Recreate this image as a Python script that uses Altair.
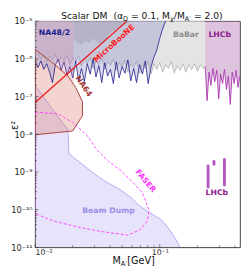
import altair as alt
import pandas as pd

# ------------------------------------------------------------------ data
# common mass grid (GeV) used for the jagged limits
mass_grid = [0.0100, 0.01055, 0.01113, 0.01174, 0.01239, 0.01307, 0.01379, 0.01455,
             0.01535, 0.01619, 0.01708, 0.01802, 0.01901, 0.02006, 0.02116, 0.02233,
             0.02355, 0.02485, 0.02622, 0.02766, 0.02918, 0.03078, 0.03248, 0.03426,
             0.03615, 0.03814, 0.04023, 0.04245, 0.04478, 0.04725, 0.04985, 0.05259,
             0.05548, 0.05853, 0.06175, 0.06515, 0.06873, 0.07251, 0.0765, 0.0807,
             0.0852, 0.0898, 0.0948, 0.1000, 0.1055, 0.1113, 0.1174, 0.1239, 0.1307,
             0.1379, 0.1455, 0.1535, 0.1619, 0.1708, 0.1802, 0.1901, 0.2006, 0.2116,
             0.2233, 0.2311]

na48_eps2 = [8.31e-7, 5.87e-7, 8.81e-7, 5.23e-7, 7.40e-7, 4.40e-7, 2.33e-7, 6.98e-7,
             9.89e-7, 4.94e-7, 8.31e-7, 3.70e-7, 6.22e-7, 3.11e-7, 8.81e-7, 2.61e-7,
             5.54e-7, 2.47e-7, 7.40e-7, 3.92e-7, 9.89e-7, 3.29e-7, 6.59e-7, 2.33e-7,
             7.84e-7, 3.49e-7, 5.23e-7, 2.20e-7, 8.31e-7, 3.11e-7, 6.22e-7, 4.15e-7,
             9.33e-7, 2.61e-7, 5.54e-7, 2.33e-7, 6.98e-7, 3.92e-7, 8.81e-7, 2.20e-7,
             6.22e-7, 1.11e-6, 1.76e-6, 3.53e-6, 6.30e-6, 1.0e-5]

babar_eps2 = [1.11e-6, 1.40e-6, 9.89e-7, 1.25e-6, 8.31e-7, 1.18e-6, 9.33e-7, 1.32e-6,
              7.84e-7, 1.11e-6, 8.81e-7, 1.25e-6, 6.98e-7, 1.05e-6, 8.31e-7, 1.18e-6,
              6.22e-7, 9.89e-7, 7.40e-7, 1.11e-6, 5.54e-7, 8.81e-7, 6.98e-7, 1.05e-6,
              5.23e-7, 8.31e-7, 6.59e-7, 9.89e-7, 4.94e-7, 7.84e-7, 6.22e-7, 9.33e-7,
              4.40e-7, 7.40e-7, 5.87e-7, 8.81e-7, 4.15e-7, 6.98e-7, 5.54e-7, 8.31e-7,
              3.92e-7, 7.40e-7, 5.23e-7, 7.84e-7, 4.40e-7, 6.98e-7, 5.54e-7, 8.31e-7,
              4.15e-7, 6.59e-7, 4.94e-7, 7.40e-7, 4.40e-7, 6.98e-7, 5.23e-7, 7.40e-7,
              4.66e-7, 6.98e-7, 5.54e-7, 6.22e-7]

lhcb_mass = [0.2311, 0.2395, 0.2482, 0.2572, 0.2666, 0.2762, 0.2863, 0.2967, 0.3074,
             0.3186, 0.3302, 0.3421, 0.3546, 0.3674, 0.3808, 0.3946, 0.4089, 0.4238, 0.4391]
lhcb_eps2 = [6.22e-7, 7.75e-8, 4.40e-7, 1.96e-7, 5.54e-7, 2.47e-7, 4.94e-7, 8.71e-8,
             3.92e-7, 2.20e-7, 5.23e-7, 1.55e-7, 3.49e-7, 6.15e-8, 4.40e-7, 2.20e-7,
             4.94e-7, 1.74e-7, 3.49e-7]

# small LHCb islands (mass, eps2 low, eps2 high)
island_mass = [0.244, 0.272, 0.330]
island_lo = [4.0e-10, 1.6e-9, 4.5e-10]
island_hi = [1.43e-9, 1.9e-9, 2.15e-9]

# darker grey band at the top
grey_mass = [0.02042, 0.02194, 0.02356, 0.02531, 0.02718, 0.02920, 0.03191, 0.03365,
             0.03614, 0.03955, 0.04478, 0.05078, 0.05758, 0.06397]
grey_eps2 = [3.53e-6, 2.64e-6, 2.35e-6, 2.97e-6, 2.64e-6, 3.53e-6, 2.64e-6, 2.35e-6,
             2.97e-6, 4.71e-6, 6.30e-6, 7.93e-6, 9.44e-6, 1.0e-5]

# rose band at top-left
rose_mass = [0.0100, 0.01354, 0.01835, 0.02042]
rose_eps2 = [1.76e-6, 8.3e-7, 3.49e-7, 2.20e-7]

# NA64 closed contour
na64_mass = [0.0100, 0.01354, 0.01835, 0.02116, 0.02398, 0.02398, 0.02314, 0.02006, 0.0100, 0.0100]
na64_eps2 = [1.76e-6, 8.3e-7, 3.49e-7, 1.74e-7, 7.3e-8, 3.07e-8, 2.58e-8, 1.22e-8, 9.66e-9, 1.76e-6]

# beam dump upper boundary
bd_mass = [0.0100, 0.01835, 0.01868, 0.02042, 0.02441, 0.02972, 0.03747, 0.04810,
           0.05853, 0.06874, 0.08516, 0.1036, 0.1133, 0.1239, 0.1354, 0.1455]
bd_eps2 = [1.96e-7, 1.29e-8, 3.04e-9, 2.41e-9, 1.52e-9, 9.0e-10, 5.35e-10, 3.37e-10,
           2.12e-10, 1.26e-10, 7.9e-11, 5.3e-11, 3.74e-11, 2.49e-11, 1.57e-11, 1.0e-11]

# MicroBooNE line
mb_mass = [0.0100, 0.0545]
mb_eps2 = [6.9e-8, 1.0e-5]

# FASER closed contour
faser_mass = [0.0100, 0.01239, 0.01535, 0.02006, 0.02622, 0.03134, 0.03881, 0.04897,
              0.05960, 0.07253, 0.08216, 0.07929, 0.06998, 0.05549, 0.03367, 0.02314,
              0.01404, 0.0100, 0.0100]
faser_eps2 = [3.87e-8, 3.66e-8, 3.45e-8, 2.05e-8, 9.12e-9, 3.83e-9, 1.91e-9, 1.07e-9,
              5.67e-10, 2.83e-10, 9.44e-11, 4.99e-11, 2.96e-11, 2.10e-11, 2.64e-11,
              3.33e-11, 4.99e-11, 7.93e-11, 3.87e-8]

# labels
label_text = ["NA48/2", "BaBar", "LHCb", "LHCb", "Beam Dump", "FASER", "NA64", "MicroBooNE"]
label_mass = [0.01429, 0.1619, 0.3024, 0.2867, 0.0388, 0.0765, 0.02441, 0.04322]
label_eps2 = [4.71e-6, 4.2e-6, 4.2e-6, 2.83e-10, 9.44e-11, 5.67e-10, 1.85e-7, 2.49e-6]
label_angle = [0, 0, 0, 0, 0, 50, 56, 318]
label_color = ["#1c1c8c", "#8c8c8c", "#8c1a8c", "#8c1a8c", "#9c8ce6", "#ff33ff", "#a03030", "#ff1a1a"]

y_tick_vals = [1e-11, 1e-10, 1e-9, 1e-8, 1e-7, 1e-6, 1e-5]
y_tick_text = ["10⁻¹¹", "10⁻¹⁰", "10⁻⁹", "10⁻⁸", "10⁻⁷", "10⁻⁶", "10⁻⁵"]
x_tick_vals = [0.01, 0.1]
x_tick_text = ["10⁻²", "10⁻¹"]

# ------------------------------------------------------------------ helpers
W, H = 212, 234
FONT = "DejaVu Sans"
TOP, BOT = 1e-5, 1e-11

xs = alt.Scale(type="log", domain=[0.01, 0.44], nice=False)
ys = alt.Scale(type="log", domain=[BOT, TOP], nice=False)


def expr(vals, texts):
    s = ""
    for v, t in zip(vals[:-1], texts[:-1]):
        s += f"datum.value < {v * 3:.1e} ? '{t}' : "
    return s + f"'{texts[-1]}'"


x_axis = alt.Axis(values=x_tick_vals, labelExpr=expr(x_tick_vals, x_tick_text), ticks=False,
                  domain=False, grid=False, title=None, labelFont=FONT, labelFontSize=8,
                  labelPadding=1, labelColor="#222222")
y_axis = alt.Axis(values=y_tick_vals, labelExpr=expr(y_tick_vals, y_tick_text), ticks=False,
                  domain=False, grid=False, title=None, labelFont=FONT, labelFontSize=8.5,
                  labelPadding=3, labelColor="#222222")


def X(f="m"):
    return alt.X(f"{f}:Q", scale=xs, axis=x_axis)


def Y(f="e"):
    return alt.Y(f"{f}:Q", scale=ys, axis=y_axis)


def frame(m, e):
    return pd.DataFrame({"m": m, "e": e, "top": TOP, "bot": BOT, "o": list(range(len(m)))})


layers = []

# beam dump
bd = frame(bd_mass, bd_eps2)
layers.append(alt.Chart(bd).mark_area(color="#a090f0", opacity=0.25, clip=True)
              .encode(x=X(), y=Y(), y2="bot:Q"))
layers.append(alt.Chart(bd).mark_line(color="#a898ee", strokeWidth=0.8, clip=True)
              .encode(x=X(), y=Y(), order="o:Q"))

# NA64 fill
na64 = frame(na64_mass, na64_eps2)
layers.append(alt.Chart(na64).mark_line(fill="#d87060", fillOpacity=0.3, strokeOpacity=0,
                                        clip=True)
              .encode(x=X(), y=Y(), order="o:Q"))

# BaBar
ba = frame(mass_grid, babar_eps2)
layers.append(alt.Chart(ba).mark_area(color="#d9d9d9", opacity=0.7, clip=True)
              .encode(x=X(), y=Y(), y2="top:Q"))
layers.append(alt.Chart(ba).mark_line(color="#9a9a9a", strokeWidth=0.6, clip=True)
              .encode(x=X(), y=Y(), order="o:Q"))

# LHCb
lh = frame(lhcb_mass, lhcb_eps2)
layers.append(alt.Chart(lh).mark_area(color="#b070b0", opacity=0.42, clip=True)
              .encode(x=X(), y=Y(), y2="top:Q"))
layers.append(alt.Chart(lh).mark_line(color="#a020a8", strokeWidth=0.8, clip=True)
              .encode(x=X(), y=Y(), order="o:Q"))

# NA48/2
na = frame(mass_grid[:len(na48_eps2)], na48_eps2)
layers.append(alt.Chart(na).mark_area(color="#8080c8", opacity=0.3, clip=True)
              .encode(x=X(), y=Y(), y2="top:Q"))
layers.append(alt.Chart(na).mark_line(color="#1a1a8c", strokeWidth=0.8, clip=True)
              .encode(x=X(), y=Y(), order="o:Q"))

# grey band
gr = frame(grey_mass, grey_eps2)
layers.append(alt.Chart(gr).mark_area(color="#7a6a7a", opacity=0.2, clip=True)
              .encode(x=X(), y=Y(), y2="top:Q"))

# rose band
ro = frame(rose_mass, rose_eps2)
layers.append(alt.Chart(ro).mark_area(color="#d080a0", opacity=0.28, clip=True)
              .encode(x=X(), y=Y(), y2="top:Q"))

# NA64 outline
layers.append(alt.Chart(na64).mark_line(color="#a8403c", strokeWidth=1.0, clip=True)
              .encode(x=X(), y=Y(), order="o:Q"))

# MicroBooNE
mb = frame(mb_mass, mb_eps2)
layers.append(alt.Chart(mb).mark_line(color="#ee1111", strokeWidth=1.2, clip=True)
              .encode(x=X(), y=Y(), order="o:Q"))

# FASER
fa = frame(faser_mass, faser_eps2)
layers.append(alt.Chart(fa).mark_line(color="#ff33ff", strokeWidth=0.9, strokeDash=[3, 2],
                                      clip=True)
              .encode(x=X(), y=Y(), order="o:Q"))

# LHCb islands
isl = pd.DataFrame({"m": island_mass, "lo": island_lo, "hi": island_hi})
layers.append(alt.Chart(isl).mark_rule(color="#a030b0", strokeWidth=3, strokeCap="round",
                                       opacity=0.8)
              .encode(x=X(), y=Y("lo"), y2="hi:Q"))

# region labels
lab = pd.DataFrame({"t": label_text, "m": label_mass, "e": label_eps2,
                    "a": label_angle, "c": label_color})
layers.append(alt.Chart(lab).mark_text(font=FONT, fontSize=8, fontWeight="bold",
                                       align="center", baseline="middle")
              .encode(x=X(), y=Y(), text="t:N", angle=alt.Angle("a:Q", scale=None),
                      color=alt.Color("c:N", scale=None)))

# inward ticks
ymaj = pd.DataFrame({"v": y_tick_vals})
ymin = pd.DataFrame({"v": [k * 10.0 ** p for p in range(-11, -5) for k in range(2, 10)]})
xmaj = pd.DataFrame({"v": x_tick_vals})
xmin = pd.DataFrame({"v": [0.02, 0.03, 0.04, 0.05, 0.06, 0.07, 0.08, 0.09, 0.2, 0.3, 0.4]})
for df, ln in ((ymaj, 3.5), (ymin, 2.0)):
    layers.append(alt.Chart(df).mark_rule(color="#333333", strokeWidth=0.6)
                  .encode(y=alt.Y("v:Q", scale=ys, axis=y_axis), x=alt.value(0), x2=alt.value(ln)))
for df, ln in ((xmaj, 3.5), (xmin, 2.0)):
    layers.append(alt.Chart(df).mark_rule(color="#333333", strokeWidth=0.6)
                  .encode(x=alt.X("v:Q", scale=xs, axis=x_axis), y=alt.value(H), y2=alt.value(H - ln)))

# title / axis titles as text pieces
one = pd.DataFrame({"a": [0]})


def txt(s, x, y, size=9.5, angle=0, align="left", baseline="alphabetic"):
    return alt.Chart(one).mark_text(font=FONT, fontSize=size, align=align, baseline=baseline,
                                    angle=angle, color="#111111") \
        .encode(x=alt.value(x), y=alt.value(y), text=alt.value(s))


ty = -2.5
layers += [
    txt("Scalar DM", 27, ty),
    txt("(α", 81, ty),
    txt("D", 91, ty + 2, size=6.7),
    txt("= 0.1, M", 99.2, ty),
    txt("χ", 139.5, ty + 2, size=6.7),
    txt("/M", 143.5, ty),
    txt("A′", 154.9, ty + 2, size=6.7),
    txt("= 2.0)", 164.3, ty),
    txt("M", 80, 251, size=10),
    txt("A′", 88.6, 253, size=7),
    txt("[GeV]", 95.3, 251, size=10),
    txt("ε²", -21, 108, size=10, angle=270, align="center", baseline="middle"),
]

chart = alt.layer(*layers).properties(
    width=W, height=H,
    padding={"left": 28, "top": 9, "right": 1, "bottom": 22},
    autosize=alt.AutoSizeParams(type="none"),
).configure_view(stroke="#111111", strokeWidth=0.8)

chart.save("out.html", embed_options={"renderer": "svg", "actions": False})
